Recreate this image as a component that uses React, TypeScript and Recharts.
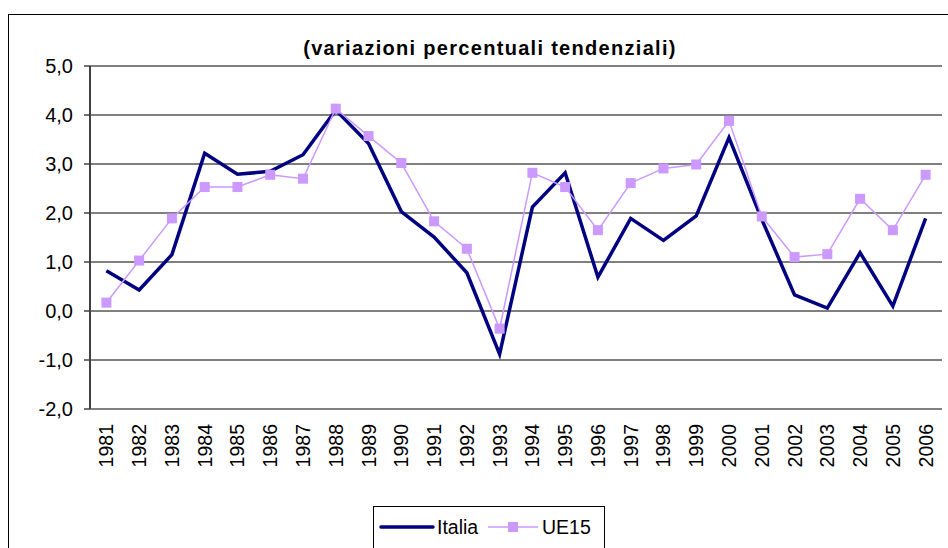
import { CartesianGrid, Line, LineChart, XAxis, YAxis } from "recharts";

const years = [
  "1981", "1982", "1983", "1984", "1985", "1986", "1987", "1988", "1989", "1990",
  "1991", "1992", "1993", "1994", "1995", "1996", "1997", "1998", "1999", "2000",
  "2001", "2002", "2003", "2004", "2005", "2006",
];

const italia = [
  0.82, 0.43, 1.15, 3.22, 2.79, 2.85, 3.19, 4.1, 3.42, 2.03,
  1.51, 0.78, -0.88, 2.12, 2.82, 0.69, 1.89, 1.44, 1.94, 3.54,
  1.87, 0.33, 0.06, 1.19, 0.1, 1.89,
];

const ue15 = [
  0.17, 1.03, 1.89, 2.53, 2.53, 2.78, 2.7, 4.13, 3.57, 3.02,
  1.83, 1.27, -0.36, 2.82, 2.53, 1.65, 2.61, 2.91, 2.99, 3.88,
  1.93, 1.1, 1.16, 2.29, 1.65, 2.78,
];

const yTicks = [-2, -1, 0, 1, 2, 3, 4, 5];

const data = years.map((year, i) => ({ year, italia: italia[i], ue15: ue15[i] }));

const font = "'Liberation Sans', Arial, sans-serif";

const YearTick = (props: any) => {
  const { x, y, payload } = props;
  const ty = y + 15;
  return (
    <text
      x={x}
      y={ty}
      dy="0.36em"
      transform={`rotate(-90, ${x}, ${ty})`}
      textAnchor="end"
      fontSize={19.5}
      fontFamily={font}
      fill="#000"
    >
      {payload.value}
    </text>
  );
};

const SquareDot = (props: any) => {
  const { cx, cy, index } = props;
  if (cx == null || cy == null) return null;
  return <rect key={index} x={cx - 5} y={cy - 5} width={10} height={10} fill="#CC99FF" />;
};

export default function App() {
  return (
    <div
      style={{
        position: "absolute",
        left: 0,
        top: 0,
        width: 948,
        height: 548,
        overflow: "hidden",
        background: "#fff",
        fontFamily: font,
      }}
    >
      <div
        style={{
          position: "absolute",
          left: 8,
          top: 14,
          width: 980,
          height: 600,
          border: "1.5px solid #000",
        }}
      />
      <div
        style={{
          position: "absolute",
          left: 16,
          width: 948,
          top: 37,
          textAlign: "center",
          fontWeight: "bold",
          fontSize: 20,
          letterSpacing: 1.3,
          color: "#000",
        }}
      >
        (variazioni percentuali tendenziali)
      </div>
      <div style={{ position: "absolute", left: 0, top: 0 }}>
        <LineChart width={948} height={548} data={data} margin={{ top: 66, right: 6, left: 0, bottom: 0 }}>
          <CartesianGrid vertical={false} stroke="#000" strokeWidth={1} />
          <XAxis
            dataKey="year"
            scale="band"
            height={139}
            interval={0}
            tickLine={false}
            tickSize={0}
            tickMargin={0}
            axisLine={{ stroke: "#808080", strokeWidth: 2 }}
            tick={<YearTick />}
          />
          <XAxis
            xAxisId="top"
            orientation="top"
            dataKey="year"
            scale="band"
            height={0}
            tick={false}
            tickLine={false}
            axisLine={{ stroke: "#808080", strokeWidth: 2 }}
          />
          <YAxis
            width={90}
            domain={[-2, 5]}
            ticks={yTicks}
            interval={0}
            tickSize={6}
            tickMargin={11}
            tickFormatter={(v: number) => v.toFixed(1).replace(".", ",")}
            tick={{ fill: "#000", fontSize: 20, fontFamily: font }}
            axisLine={{ stroke: "#404040", strokeWidth: 2 }}
            tickLine={{ stroke: "#404040", strokeWidth: 1.5 }}
          />
          <YAxis
            yAxisId="right"
            orientation="right"
            width={0}
            domain={[-2, 5]}
            tick={false}
            tickLine={false}
            axisLine={{ stroke: "#808080", strokeWidth: 2 }}
          />
          <Line
            dataKey="italia"
            type="linear"
            stroke="#000080"
            strokeWidth={3.5}
            dot={false}
            activeDot={false}
            isAnimationActive={false}
          />
          <Line
            dataKey="ue15"
            type="linear"
            stroke="#CC99FF"
            strokeWidth={1.5}
            dot={<SquareDot />}
            activeDot={false}
            isAnimationActive={false}
          />
        </LineChart>
      </div>
      <div
        style={{
          position: "absolute",
          left: 373,
          top: 506,
          width: 230,
          height: 60,
          border: "1px solid #000",
          background: "#fff",
        }}
      >
        <svg width={230} height={40} style={{ position: "absolute", left: 0, top: 0 }}>
          <line x1={7} y1={20} x2={59} y2={20} stroke="#000080" strokeWidth={3.5} strokeLinecap="round" />
          <text x={63} y={20} dy="0.36em" fontSize={19.5} fontFamily={font} fill="#000">Italia</text>
          <line x1={114} y1={20} x2={164} y2={20} stroke="#CC99FF" strokeWidth={1.5} />
          <rect x={134} y={15} width={10} height={10} fill="#CC99FF" />
          <text x={168} y={20} dy="0.36em" fontSize={19.5} fontFamily={font} fill="#000">UE15</text>
        </svg>
      </div>
    </div>
  );
}
